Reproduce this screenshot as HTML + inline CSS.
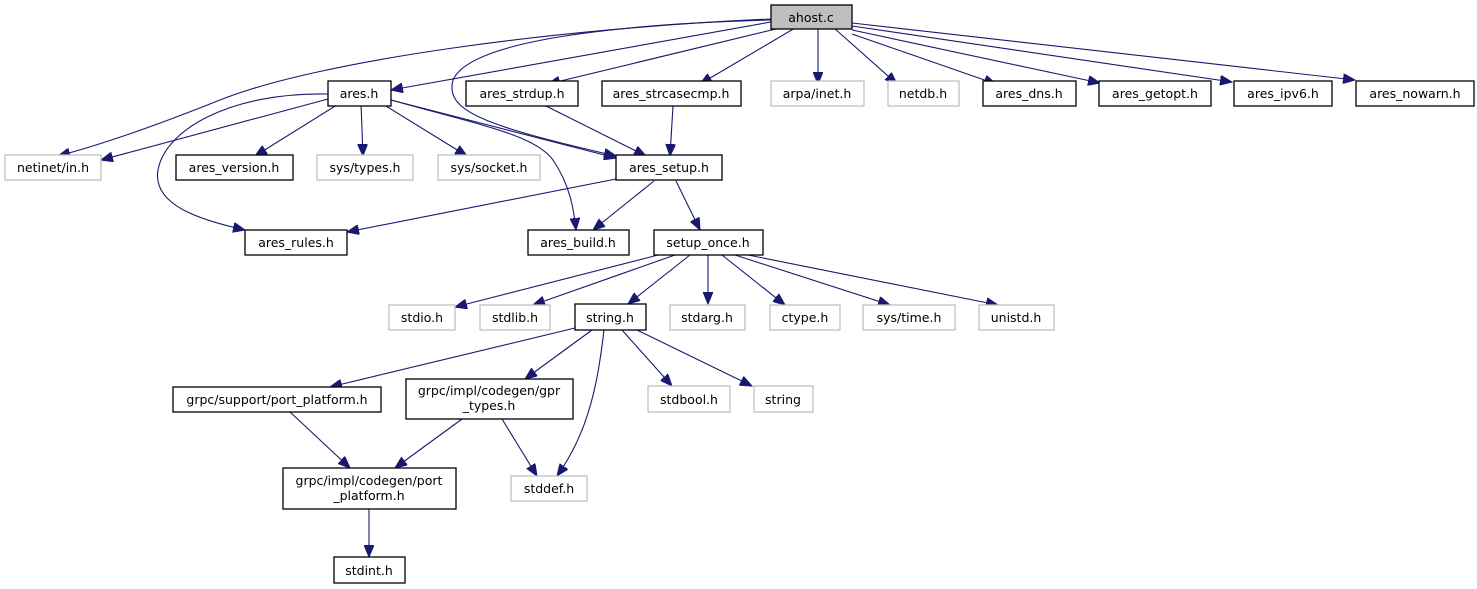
<!DOCTYPE html>
<html><head><meta charset="utf-8"><style>
body{margin:0;background:#fff;width:1477px;height:589px;overflow:hidden}
svg{display:block}
text{font-family:"DejaVu Sans","Liberation Sans",sans-serif;font-size:12.5px;fill:#000;text-anchor:middle}
.b{fill:#fff;stroke:#000;stroke-width:1.3}
.g{fill:#fff;stroke:#bfbfbf;stroke-width:1.3}
.e{fill:none;stroke:#191970;stroke-width:1.1;marker-end:url(#a)}
</style></head><body>
<svg width="1477" height="589" viewBox="0 0 1477 589">
<defs><marker id="a" markerWidth="13" markerHeight="10" refX="12" refY="5" orient="auto" markerUnits="userSpaceOnUse"><path d="M0,0 L12,5 L0,10 Z" fill="#191970" stroke="#191970"/></marker></defs>
<path class="e" d="M771,22 L391,90"/>
<path class="e" d="M771,19 C560,28 320,60 220,100 C150,128 100,145 58,156"/>
<path class="e" d="M771,20 C620,24 470,40 453,80 C445,110 480,125 616,156"/>
<path class="e" d="M780,28 L548,84"/>
<path class="e" d="M795,28 L700,84"/>
<path class="e" d="M818,28 L818,84"/>
<path class="e" d="M834,28 L897,84"/>
<path class="e" d="M852,34 L996,84"/>
<path class="e" d="M852,30 L1100,83"/>
<path class="e" d="M852,26 L1232,82"/>
<path class="e" d="M852,23 L1355,80"/>
<path class="e" d="M328,99 L101,160"/>
<path class="e" d="M328,94 C230,92 165,130 158,170 C152,205 200,220 245,230"/>
<path class="e" d="M340,103 L255,156"/>
<path class="e" d="M361,103 L363,156"/>
<path class="e" d="M381,103 L467,156"/>
<path class="e" d="M391,100 C480,125 535,135 553,160 C570,185 574,210 576,230"/>
<path class="e" d="M391,100 L616,158"/>
<path class="e" d="M546,106 L646,156"/>
<path class="e" d="M673,106 L670,156"/>
<path class="e" d="M616,179 L347,232"/>
<path class="e" d="M654,181 L593,230"/>
<path class="e" d="M676,181 L700,230"/>
<path class="e" d="M658,255 L455,307"/>
<path class="e" d="M675,255 L533,305"/>
<path class="e" d="M690,255 L628,304"/>
<path class="e" d="M708,255 L708,304"/>
<path class="e" d="M722,255 L785,305"/>
<path class="e" d="M735,255 L890,305"/>
<path class="e" d="M748,255 L998,305"/>
<path class="e" d="M575,328 L330,387"/>
<path class="e" d="M592,330 L525,379"/>
<path class="e" d="M604,330 C598,380 590,430 557,476"/>
<path class="e" d="M622,330 L672,386"/>
<path class="e" d="M637,330 L752,386"/>
<path class="e" d="M290,412 L350,468"/>
<path class="e" d="M462,419 L395,468"/>
<path class="e" d="M502,419 L537,476"/>
<path class="e" d="M369,509 L369,557"/>
<rect x="771" y="5" width="81" height="24" fill="#bfbfbf" stroke="#000" stroke-width="1.3"/><text x="811" y="22">ahost.c</text>
<rect class="b" x="328" y="81" width="63" height="25"/><text x="359" y="98">ares.h</text>
<rect class="b" x="466" y="81" width="112" height="25"/><text x="522" y="98">ares_strdup.h</text>
<rect class="b" x="602" y="81" width="139" height="25"/><text x="671" y="98">ares_strcasecmp.h</text>
<rect class="g" x="771" y="81" width="93" height="25"/><text x="817" y="98">arpa/inet.h</text>
<rect class="g" x="888" y="81" width="71" height="25"/><text x="923" y="98">netdb.h</text>
<rect class="b" x="983" y="81" width="93" height="25"/><text x="1029" y="98">ares_dns.h</text>
<rect class="b" x="1099" y="81" width="112" height="25"/><text x="1155" y="98">ares_getopt.h</text>
<rect class="b" x="1234" y="81" width="98" height="25"/><text x="1283" y="98">ares_ipv6.h</text>
<rect class="b" x="1356" y="81" width="118" height="25"/><text x="1415" y="98">ares_nowarn.h</text>
<rect class="g" x="5" y="155" width="96" height="25"/><text x="53" y="172">netinet/in.h</text>
<rect class="b" x="176" y="155" width="117" height="25"/><text x="234" y="172">ares_version.h</text>
<rect class="g" x="317" y="155" width="96" height="25"/><text x="365" y="172">sys/types.h</text>
<rect class="g" x="438" y="155" width="102" height="25"/><text x="489" y="172">sys/socket.h</text>
<rect class="b" x="616" y="155" width="106" height="25"/><text x="669" y="172">ares_setup.h</text>
<rect class="b" x="245" y="230" width="102" height="25"/><text x="296" y="247">ares_rules.h</text>
<rect class="b" x="528" y="230" width="101" height="25"/><text x="578" y="247">ares_build.h</text>
<rect class="b" x="654" y="230" width="109" height="25"/><text x="708" y="247">setup_once.h</text>
<rect class="g" x="389" y="305" width="66" height="25"/><text x="422" y="322">stdio.h</text>
<rect class="g" x="480" y="305" width="70" height="25"/><text x="515" y="322">stdlib.h</text>
<rect class="b" x="575" y="304" width="71" height="26"/><text x="610" y="322">string.h</text>
<rect class="g" x="670" y="305" width="75" height="25"/><text x="707" y="322">stdarg.h</text>
<rect class="g" x="770" y="305" width="70" height="25"/><text x="805" y="322">ctype.h</text>
<rect class="g" x="863" y="305" width="92" height="25"/><text x="909" y="322">sys/time.h</text>
<rect class="g" x="979" y="305" width="75" height="25"/><text x="1016" y="322">unistd.h</text>
<rect class="b" x="173" y="387" width="208" height="25"/><text x="277" y="404">grpc/support/port_platform.h</text>
<rect class="b" x="406" y="379" width="167" height="40"/><text x="489" y="395">grpc/impl/codegen/gpr</text><text x="489" y="410">_types.h</text>
<rect class="g" x="648" y="386" width="82" height="26"/><text x="689" y="404">stdbool.h</text>
<rect class="g" x="754" y="386" width="59" height="26"/><text x="783" y="404">string</text>
<rect class="b" x="283" y="468" width="173" height="41"/><text x="369" y="485">grpc/impl/codegen/port</text><text x="369" y="500">_platform.h</text>
<rect class="g" x="511" y="476" width="76" height="25"/><text x="549" y="493">stddef.h</text>
<rect class="b" x="334" y="557" width="71" height="26"/><text x="369" y="575">stdint.h</text>
</svg>
</body></html>
